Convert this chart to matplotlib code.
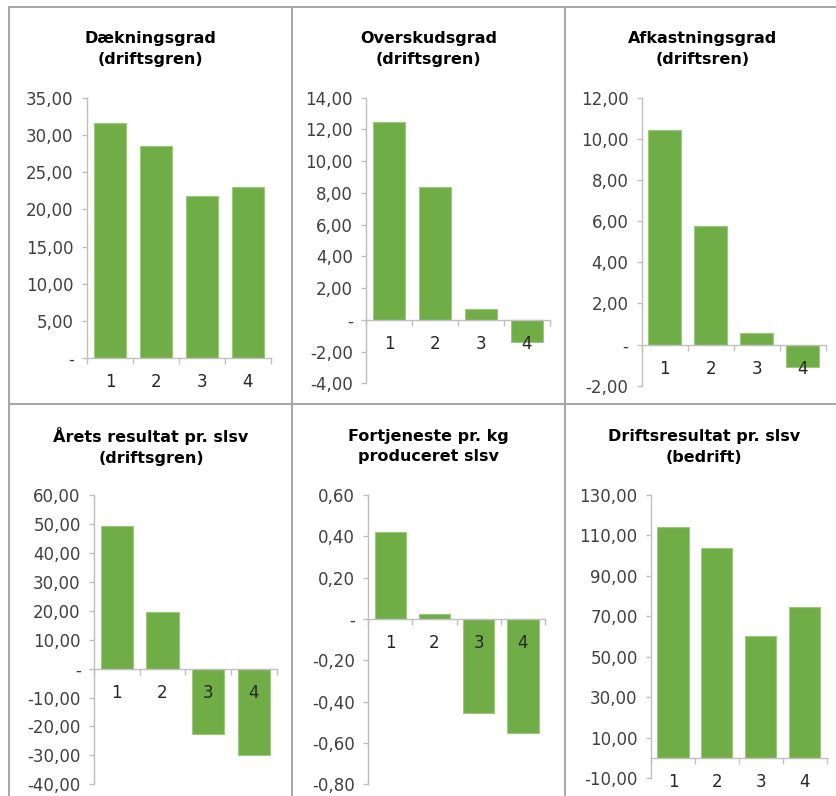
import matplotlib
matplotlib.use("Agg")
import matplotlib.pyplot as plt
from matplotlib.lines import Line2D

# --- data -------------------------------------------------------------
categories = ["1", "2", "3", "4"]

titles = [
    "Dækningsgrad\n(driftsgren)",
    "Overskudsgrad\n(driftsgren)",
    "Afkastningsgrad\n(driftsren)",
    "Årets resultat pr. slsv\n(driftsgren)",
    "Fortjeneste pr. kg\nproduceret slsv",
    "Driftsresultat pr. slsv\n(bedrift)",
]

daekningsgrad = [31.6, 28.5, 21.8, 23.0]
overskudsgrad = [12.48, 8.38, 0.69, -1.37]
afkastningsgrad = [10.45, 5.78, 0.57, -1.09]
aarets_resultat = [49.3, 19.5, -22.7, -29.8]
fortjeneste_kg = [0.42, 0.024, -0.455, -0.553]
driftsresultat = [114.3, 103.9, 60.2, 74.7]

series = [daekningsgrad, overskudsgrad, afkastningsgrad,
          aarets_resultat, fortjeneste_kg, driftsresultat]

yticks = [
    [0, 5, 10, 15, 20, 25, 30, 35],
    [-4, -2, 0, 2, 4, 6, 8, 10, 12, 14],
    [-2, 0, 2, 4, 6, 8, 10, 12],
    [-40, -30, -20, -10, 0, 10, 20, 30, 40, 50, 60],
    [-0.8, -0.6, -0.4, -0.2, 0, 0.2, 0.4, 0.6],
    [-10, 10, 30, 50, 70, 90, 110, 130],
]

# --- layout (pixels) --------------------------------------------------
W, H = 837, 796
BAR = "#70AD47"
BAR_EDGE = "#9CC97E"
AXIS = "#BFBFBF"
TEXT = "#404040"
GRID = "#A6A6A6"

# axes boxes: x0, x1, y_top, y_bottom
boxes = [
    (87, 271, 98, 358),
    (366, 550, 97.7, 383.3),
    (641.7, 825.7, 97.7, 385.7),
    (94, 276.7, 495, 784.3),
    (368.3, 545, 495, 784.3),
    (651, 826.7, 495, 778.3),
]
title_pos = [(150.5, 49), (428.5, 49), (703, 49),
             (151, 446.5), (428.5, 446.5), (704, 446.5)]

plt.rcParams["font.family"] = ["DejaVu Sans"]
fig = plt.figure(figsize=(W / 100, H / 100), dpi=100)
fig.patch.set_facecolor("white")


def fmt(v):
    if abs(v) < 1e-9:
        return "-"
    return f"{v:.2f}".replace(".", ",")


for vals, ticks, box, title, tp in zip(series, yticks, boxes, titles, title_pos):
    x0, x1, yt, yb = box
    ax = fig.add_axes([x0 / W, 1 - yb / H, (x1 - x0) / W, (yb - yt) / H])
    xs = list(range(len(categories)))
    ax.bar(xs, vals, width=0.71, color=BAR, edgecolor=BAR_EDGE,
           linewidth=0.8, zorder=1)
    ax.set_xlim(-0.5, len(categories) - 0.5)
    ax.set_ylim(min(ticks), max(ticks))

    for s in ("top", "right"):
        ax.spines[s].set_visible(False)
    ax.spines["left"].set_color(AXIS)
    ax.spines["left"].set_linewidth(1.0)
    ax.spines["bottom"].set_color(AXIS)
    ax.spines["bottom"].set_linewidth(1.0)
    ax.spines["bottom"].set_position(("data", 0))

    ax.set_yticks(ticks)
    ax.set_yticklabels([fmt(t) for t in ticks])
    ax.tick_params(axis="y", direction="out", length=3.6, width=1.0,
                   color=AXIS, labelcolor=TEXT, labelsize=12, pad=6)

    # category boundary ticks, labels centred under each bar
    ax.set_xticks([i - 0.5 for i in range(len(categories) + 1)])
    ax.set_xticklabels([])
    ax.set_xticks(xs, minor=True)
    ax.set_xticklabels(categories, minor=True)
    ax.tick_params(axis="x", which="major", direction="out", length=4.2,
                   width=1.0, color=AXIS)
    ax.tick_params(axis="x", which="minor", length=0, labelcolor="#262626",
                   labelsize=12, pad=11)
    ax.patch.set_alpha(0)

    fig.text(tp[0] / W, 1 - tp[1] / H, title, ha="center", va="center",
             fontsize=11.5, fontweight="bold", color="black",
             linespacing=1.5)

# cell borders of the panel grid
def hline(y, xa, xb):
    fig.add_artist(Line2D([xa / W, xb / W], [1 - y / H, 1 - y / H],
                          color=GRID, linewidth=1.4, transform=fig.transFigure))


def vline(x, ya, yb):
    fig.add_artist(Line2D([x / W, x / W], [1 - ya / H, 1 - yb / H],
                          color=GRID, linewidth=1.4, transform=fig.transFigure))


hline(7, 9, W)
hline(404, 9, W)
vline(9, 7, H)
vline(292, 7, H)
vline(565, 7, H)

fig.savefig("out.png", dpi=100, facecolor="white")
